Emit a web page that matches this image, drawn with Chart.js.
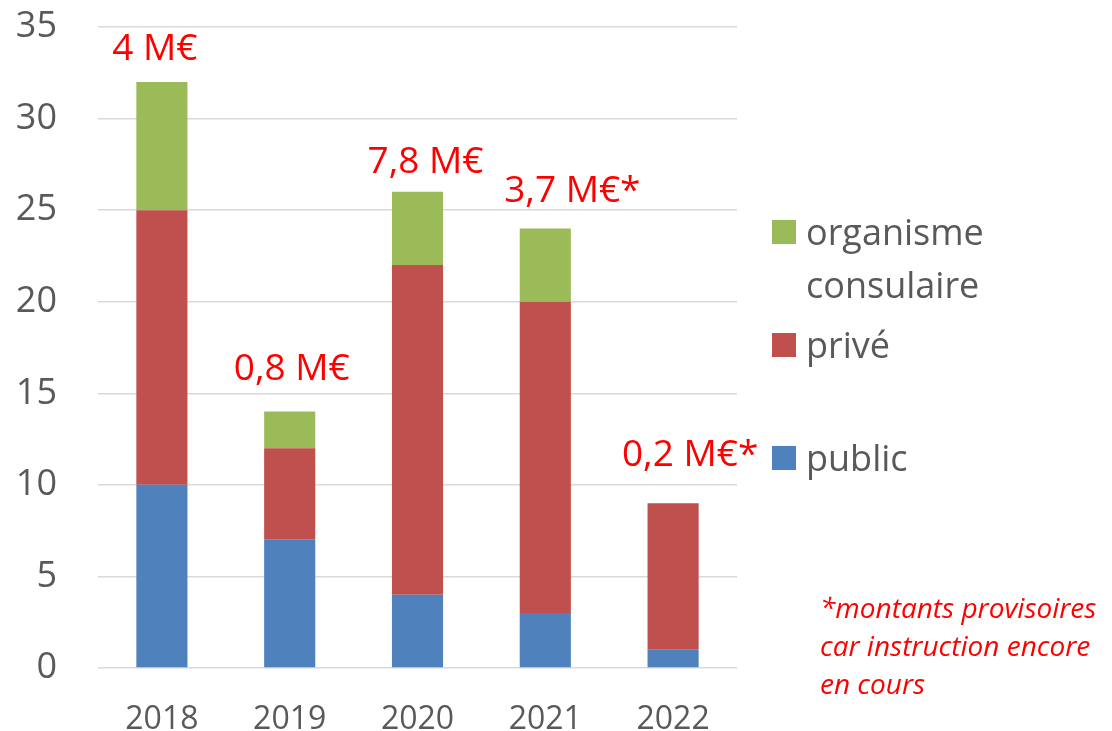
<!DOCTYPE html>
<html>
<head>
<meta charset="utf-8">
<script src="https://cdn.jsdelivr.net/npm/chart.js@4.4.0/dist/chart.umd.min.js"></script>
<style>
  html, body { margin: 0; padding: 0; background: #fff; }
  #wrap { position: relative; width: 1112px; height: 731px; }
</style>
</head>
<body>
<div id="wrap"><canvas id="chart" width="1112" height="731"></canvas></div>
<script>
const years = ['2018', '2019', '2020', '2021', '2022'];
const publicValues = [10, 7, 4, 3, 1];
const priveValues = [15, 5, 18, 17, 8];
const consulaireValues = [7, 2, 4, 4, 0];
const amountLabels = ['4 M€', '0,8 M€', '7,8 M€', '3,7 M€*', '0,2 M€*'];
const noteLines = ['*montants provisoires', 'car instruction encore', 'en cours'];

const grey = '#595959';
const red = '#ff0000';

// placement of the red amounts above each stack (pixels)
const amountDx = [-7, 2, 8, 27, 17];
const amountDy = [22, 32, 19, 26, 37];

const legendItems = [
    { lines: ['organisme', 'consulaire'], color: '#9bbb59', y: 220 },
    { lines: ['privé'], color: '#c0504d', y: 333 },
    { lines: ['public'], color: '#4f81bd', y: 446 }
];

const extrasPlugin = {
    id: 'extras',
    afterDraw(chart) {
        const ctx = chart.ctx;
        const x = chart.scales.x;
        const y = chart.scales.y;
        ctx.save();

        // amounts above the bars
        ctx.fillStyle = red;
        ctx.font = '37px "Open Sans"';
        ctx.textAlign = 'center';
        ctx.textBaseline = 'alphabetic';
        amountLabels.forEach((txt, i) => {
            const total = publicValues[i] + priveValues[i] + consulaireValues[i];
            ctx.fillText(txt, x.getPixelForValue(i) + amountDx[i], y.getPixelForValue(total) - amountDy[i]);
        });

        // legend
        ctx.textAlign = 'left';
        ctx.font = '36px "Open Sans"';
        legendItems.forEach(item => {
            ctx.fillStyle = item.color;
            ctx.fillRect(772, item.y, 24, 24);
            ctx.fillStyle = grey;
            item.lines.forEach((line, j) => {
                ctx.fillText(line, 806, item.y + 25 + j * 53);
            });
        });

        // footnote
        ctx.fillStyle = red;
        ctx.font = 'italic 28px "Open Sans"';
        noteLines.forEach((line, j) => {
            ctx.fillText(line, 820, 618 + j * 38);
        });
        ctx.restore();
    }
};

const ctx = document.getElementById('chart').getContext('2d');
new Chart(ctx, {
    type: 'bar',
    data: {
        labels: years,
        datasets: [
            { label: 'public', data: publicValues, backgroundColor: '#4f81bd' },
            { label: 'privé', data: priveValues, backgroundColor: '#c0504d' },
            { label: 'organisme consulaire', data: consulaireValues, backgroundColor: '#9bbb59' }
        ]
    },
    options: {
        responsive: false,
        animation: false,
        events: [],
        barPercentage: 0.4,
        categoryPercentage: 1,
        layout: { padding: { left: 0, right: 375, top: 27, bottom: 0 } },
        plugins: {
            legend: { display: false },
            tooltip: { enabled: false }
        },
        scales: {
            x: {
                stacked: true,
                grid: { display: false, drawTicks: false },
                border: { display: false },
                ticks: { color: grey, font: { family: 'Open Sans', size: 32 }, padding: 33, maxRotation: 0 },
                afterFit(scale) {
                    scale.height = 63;
                    scale.paddingLeft = 0;
                    scale.paddingRight = 0;
                }
            },
            y: {
                stacked: true,
                min: 0,
                max: 35,
                grid: { color: '#d9d9d9', lineWidth: 1.5, drawTicks: false },
                border: { display: false },
                ticks: { stepSize: 5, color: grey, font: { family: 'Open Sans', size: 36 }, padding: 41 },
                afterFit(scale) {
                    scale.width = 98;
                    scale.paddingTop = 0;
                    scale.paddingBottom = 0;
                }
            }
        }
    },
    plugins: [extrasPlugin]
});
</script>
</body>
</html>
